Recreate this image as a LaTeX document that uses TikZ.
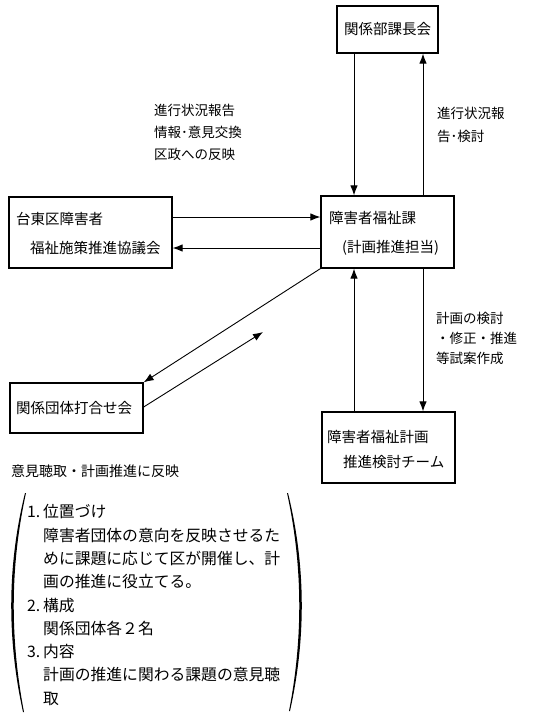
\documentclass[tikz,border=0pt]{standalone}
\usepackage{fontspec}
\setmainfont{Noto Sans CJK JP}
\usetikzlibrary{arrows.meta,calc}
\newcommand{\numhd}[1]{\makebox[16pt][l]{#1}}
\begin{document}
\begin{tikzpicture}[x=1pt,y=-1pt,
  box/.style={draw, line width=1.3pt, inner sep=0pt},
  arr/.style={line width=0.9pt, -{Latex[length=10pt,width=7.5pt]}},
  lbl/.style={anchor=west, align=left, inner sep=0pt, font=\fontsize{13.5}{22}\selectfont},
  btxt/.style={anchor=west, align=left, inner sep=0pt, font=\fontsize{14.5}{29}\selectfont},
  ltxt/.style={anchor=west, align=left, inner sep=0pt, font=\fontsize{15.8}{23.3}\selectfont},
  paren/.style={fill=black}]
\useasboundingbox (0,0) rectangle (547,723);

% boxes
\node[box, minimum width=101pt, minimum height=47pt] (A) at (387.5,29.5) {};
\node[box, minimum width=133pt, minimum height=72pt] (B) at (387.5,232) {};
\node[box, minimum width=163pt, minimum height=71pt] (C) at (90.5,232.5) {};
\node[box, minimum width=133pt, minimum height=50pt] (D) at (76.5,408) {};
\node[box, minimum width=133pt, minimum height=71pt] (E) at (388.5,447.5) {};

% box texts
\node[btxt, anchor=center] (At) at (A.center) {関係部課長会};
\node[btxt] (Bt) at (329,233.5) {障害者福祉課\\\hspace*{13pt}(計画推進担当)};
\node[btxt] (Ct) at (16,233.5) {台東区障害者\\\hspace*{14pt}福祉施策推進協議会};
\node[btxt] (Dt) at (16,408) {関係団体打合せ会};
\node[btxt, font=\fontsize{14.5}{25}\selectfont] (Et) at (327,449.5) {障害者福祉計画\\\hspace*{16pt}推進検討チーム};

% connectors
\draw[arr] (A.south -| 354,0) -- (B.north -| 354,0);
\draw[arr] (B.north -| 423,0) -- (A.south -| 423,0);
\draw[arr] (C.east |- 0,217) -- (B.west |- 0,217);
\draw[arr] (B.west |- 0,248) -- (C.east |- 0,248);
\draw[arr] (E.north -| 354,0) -- (B.south -| 354,0);
\draw[arr] (B.south -| 423,0) -- (E.north -| 423,0);
\draw[arr] (B.south west) -- (D.north east);
\coordinate (free) at (263,332);
\draw[arr] (D.east |- 0,407) -- (free);

% labels
\node[lbl] (L1) at (154,132) {進行状況報告\\情報･意見交換\\区政への反映};
\node[lbl, font=\fontsize{13.5}{23}\selectfont] (L2) at (437,124.5) {進行状況報\\告･検討};
\node[lbl, font=\fontsize{13.5}{20}\selectfont] (L3) at (436,338) {計画の検討\\・修正・推進\\等試案作成};
\node[lbl, font=\fontsize{14}{20}\selectfont] (L4) at (11,471) {意見聴取・計画推進に反映};

% list
\node[ltxt] (List) at (27,605) {\numhd{1.}位置づけ\\
\hspace*{16pt}障害者団体の意向を反映させるた\\
\hspace*{16pt}めに課題に応じて区が開催し、計\\
\hspace*{16pt}画の推進に役立てる。\\
\numhd{2.}構成\\
\hspace*{16pt}関係団体各２名\\
\numhd{3.}内容\\
\hspace*{16pt}計画の推進に関わる課題の意見聴\\
\hspace*{16pt}取};

% parentheses
\fill[paren] (25,493) .. controls (7,566) and (7,639) .. (23,712) -- (24,712) .. controls (10,639) and (10,566) .. (26,493) -- cycle;
\fill[paren] (288,493) .. controls (306,566) and (306,639) .. (290,711) -- (289,711) .. controls (303,639) and (303,566) .. (287,493) -- cycle;
\end{tikzpicture}
\end{document}
